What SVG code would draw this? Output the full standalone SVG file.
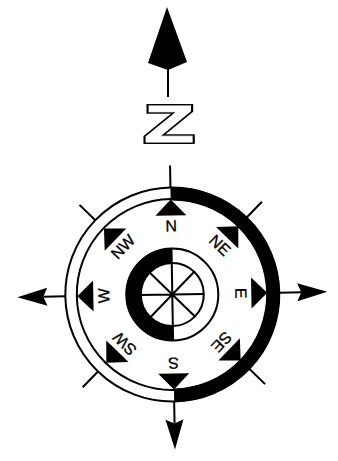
<svg xmlns="http://www.w3.org/2000/svg" width="338" height="461" viewBox="0 0 338 461">
<style>
.l{fill:none;stroke:#000;stroke-width:2}
.t{font-family:"Liberation Sans",Arial,sans-serif;font-size:16px;fill:#000;stroke:#000;stroke-width:.3;text-anchor:middle;text-rendering:geometricPrecision}
.z{font-family:"Liberation Sans",Arial,sans-serif;font-weight:700;font-size:52px;text-anchor:middle}
</style>
<defs>
<polygon id="tri" points="0,-95 15.5,-79 -15.5,-79" fill="#000"/>
<path id="arm" d="M0,-107V-129" class="l"/>
<polygon id="head" points="0,-155 9,-125 0,-129 -9,-125" fill="#000"/>
</defs>
<rect width="338" height="461" fill="#fff"/>
<g id="north-arrow">
<path d="M168,68V97" class="l"/>
<polygon points="167,7 187,62 168,70 148,63" fill="#000"/>
</g>
<g id="north-letter">
<text class="z" transform="translate(169,142) scale(1.58,1)" fill="#000" stroke="#000" stroke-width="3.8" stroke-linejoin="miter">Z</text>
<text class="z" transform="translate(169,142) scale(1.58,1)" fill="#fff" stroke="#fff" stroke-width="1" stroke-linejoin="miter">Z</text>
</g>
<g transform="rotate(-1 172.3 294.5)">
<g id="connectors">
<use href="#arm" transform="translate(172.3 294.5)"/>
<use href="#arm" transform="translate(172.3 294.5) rotate(45)"/>
<use href="#arm" transform="translate(172.3 294.5) rotate(90)"/>
<use href="#arm" transform="translate(172.3 294.5) rotate(135)"/>
<use href="#arm" transform="translate(172.3 294.5) rotate(180)"/>
<use href="#arm" transform="translate(172.3 294.5) rotate(225)"/>
<use href="#arm" transform="translate(172.3 294.5) rotate(270)"/>
<use href="#arm" transform="translate(172.3 294.5) rotate(315)"/>
<use href="#head" transform="translate(172.3 294.5) rotate(90)"/>
<use href="#head" transform="translate(172.3 294.5) rotate(180)"/>
<use href="#head" transform="translate(172.3 294.5) rotate(270)"/>
</g>
<g id="outer-ring">
<circle cx="172.3" cy="294.5" r="107" class="l"/>
<circle cx="172.3" cy="294.5" r="95.5" class="l"/>
<path d="M172.3,193.8A100.7,100.7 0 0 1 172.3,395.2" fill="none" stroke="#000" stroke-width="13.5"/>
</g>
<g id="inner-ring">
<circle cx="172.3" cy="294.5" r="46" class="l" fill="#fff"/>
<path d="M172.3,255.5A39,39 0 0 0 172.3,333.5" fill="none" stroke="#000" stroke-width="15"/>
<circle cx="172.3" cy="294.5" r="31.5" class="l" fill="#fff"/>
<path d="M172.3,248.5V340.5M140.8,294.5H203.8M150,272.2L194.6,316.8M194.6,272.2L150,316.8" class="l"/>
</g>
<g id="n"><use href="#tri" transform="translate(172.3 294.5)"/><text class="t" transform="translate(172.3 294.5) translate(0,-63)">N</text></g>
<g id="ne"><use href="#tri" transform="translate(172.3 294.5) rotate(45)"/><text class="t" transform="translate(172.3 294.5) rotate(45) translate(0,-63)">NE</text></g>
<g id="e"><use href="#tri" transform="translate(172.3 294.5) rotate(90)"/><text class="t" transform="translate(172.3 294.5) rotate(90) translate(0,-63)">E</text></g>
<g id="se"><use href="#tri" transform="translate(172.3 294.5) rotate(135)"/><text class="t" transform="translate(172.3 294.5) rotate(135) translate(0,-63)">SE</text></g>
<g id="s"><use href="#tri" transform="translate(172.3 294.5) rotate(180)"/><text class="t" transform="translate(172.3 294.5) rotate(180) translate(0,-63)">S</text></g>
<g id="sw"><use href="#tri" transform="translate(172.3 294.5) rotate(225)"/><text class="t" transform="translate(172.3 294.5) rotate(225) translate(0,-63)">SW</text></g>
<g id="w"><use href="#tri" transform="translate(172.3 294.5) rotate(270)"/><text class="t" transform="translate(172.3 294.5) rotate(270) translate(0,-63)">W</text></g>
<g id="nw"><use href="#tri" transform="translate(172.3 294.5) rotate(315)"/><text class="t" transform="translate(172.3 294.5) rotate(315) translate(0,-63)">NW</text></g>
</g>
</svg>
